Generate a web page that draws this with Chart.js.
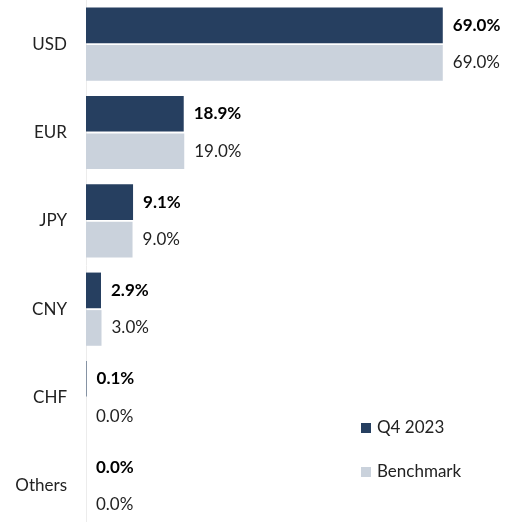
<!DOCTYPE html>
<html>
<head>
<meta charset="utf-8">
<script src="https://cdn.jsdelivr.net/npm/chart.js@4"></script>
<style>
  html, body { margin: 0; padding: 0; background: #fff; overflow: hidden; }
  canvas { display: block; }
</style>
</head>
<body>
<canvas id="chart" width="510" height="530"></canvas>
<script>
const currencies = ["USD", "EUR", "JPY", "CNY", "CHF", "Others"];
const q4Values = [69.0, 18.9, 9.1, 2.9, 0.1, 0.0];
const benchmarkValues = [69.0, 19.0, 9.0, 3.0, 0.0, 0.0];
const seriesNames = ["Q4 2023", "Benchmark"];

const FONT = "Lato, sans-serif";

// value labels at bar ends + legend in the lower right
const labelsPlugin = {
  id: "valueLabels",
  afterDatasetsDraw(chart) {
    const ctx = chart.ctx;
    ctx.save();
    ctx.textBaseline = "middle";
    ctx.textAlign = "left";
    chart.data.datasets.forEach((ds, i) => {
      const meta = chart.getDatasetMeta(i);
      ctx.font = (i === 0 ? "bold " : "") + "17px " + FONT;
      ctx.fillStyle = i === 0 ? "#000" : "#222";
      meta.data.forEach((bar, j) => {
        ctx.fillText(ds.data[j].toFixed(1) + "%", bar.x + 10, bar.y);
      });
    });

    // legend
    const lx = 361;
    const ly = [428, 472];
    ctx.font = "17px " + FONT;
    chart.data.datasets.forEach((ds, i) => {
      ctx.fillStyle = ds.backgroundColor;
      ctx.fillRect(lx, ly[i] - 5, 10, 10);
      ctx.fillStyle = "#222";
      ctx.fillText(ds.label, lx + 16, ly[i]);
    });
    ctx.restore();
  }
};

new Chart(document.getElementById("chart"), {
  type: "bar",
  data: {
    labels: currencies,
    datasets: [
      { label: seriesNames[0], data: q4Values, backgroundColor: "#263F60" },
      { label: seriesNames[1], data: benchmarkValues, backgroundColor: "#CAD2DC" }
    ]
  },
  options: {
    indexAxis: "y",
    responsive: false,
    animation: false,
    layout: { padding: 0 },
    datasets: {
      bar: { categoryPercentage: 0.85, barPercentage: 0.95 }
    },
    plugins: {
      legend: { display: false },
      tooltip: { enabled: false }
    },
    scales: {
      x: {
        min: 0,
        max: 82,
        display: false,
        grid: { display: false }
      },
      y: {
        grid: { display: false, drawTicks: false },
        border: { display: true, color: "#ececec", width: 1 },
        ticks: {
          color: "#222",
          padding: 19,
          font: { family: FONT, size: 17 }
        },
        afterFit(scale) {
          scale.width = 86;
          // tick padding otherwise gets added above/below the axis too
          scale.paddingTop = 0;
          scale.paddingBottom = 0;
        }
      }
    }
  },
  plugins: [labelsPlugin]
});
</script>
</body>
</html>
